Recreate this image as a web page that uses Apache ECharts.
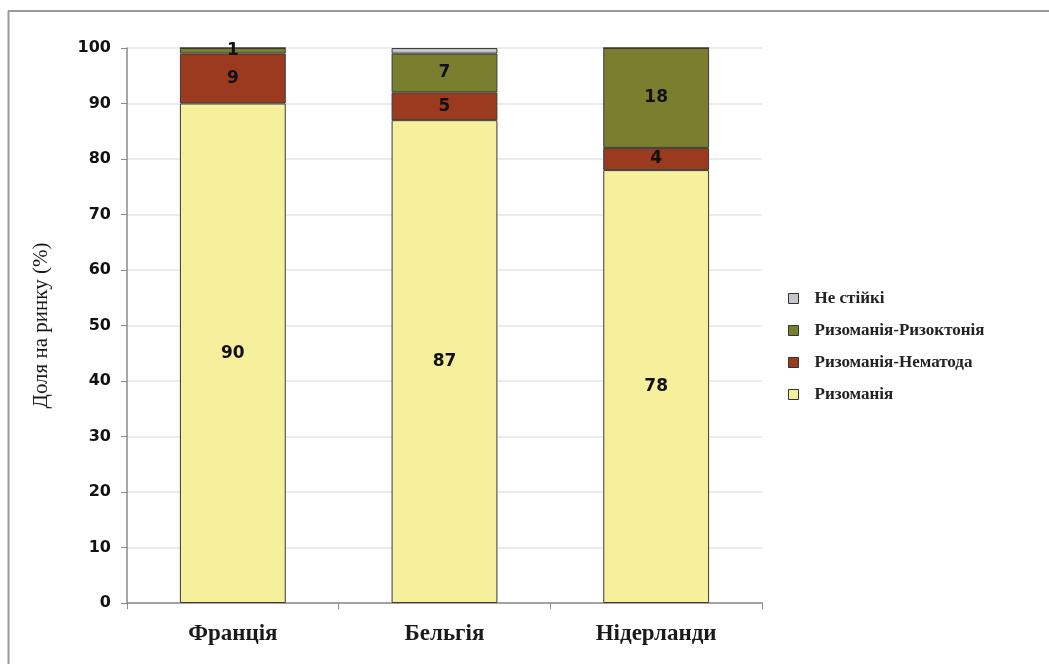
<!DOCTYPE html>
<html>
<head>
<meta charset="utf-8">
<script src="https://cdn.jsdelivr.net/npm/echarts@6/dist/echarts.min.js"></script>
<style>
  html, body { margin: 0; padding: 0; background: #ffffff; }
  #chart { width: 1049px; height: 664px; }
</style>
</head>
<body>
<div id="chart"></div>
<script>
// Countries on the horizontal axis
const countries = ['Франція', 'Бельгія', 'Нідерланди'];

// Market share (%) of each resistance type, per country
const rizomania = [90, 87, 78];
const rizomaniaNematoda = [9, 5, 4];
const rizomaniaRizoktonia = [1, 7, 18];
const neStiiki = [0, 1, 0];

// Series names, in stacking order
const seriesNames = ['Ризоманія', 'Ризоманія-Нематода', 'Ризоманія-Ризоктонія', 'Не стійкі'];

const yTicks = { min: 0, max: 100, interval: 10 };

const colors = ['#F6EF9C', '#9B3A1E', '#7A7E2F', '#C3C4CC'];

const chart = echarts.init(document.getElementById('chart'), null, { renderer: 'canvas' });

function barSeries(name, data, color, showLabel) {
  return {
    name: name,
    type: 'bar',
    stack: 'share',
    barWidth: '50%',
    data: data,
    itemStyle: { color: color, borderColor: '#3a3a3a', borderWidth: 1 },
    label: {
      show: showLabel,
      position: 'inside',
      color: '#111',
      fontFamily: 'DejaVu Sans, Arial, sans-serif',
      fontWeight: 'bold',
      fontSize: 17,
      formatter: p => (p.value > 0 ? p.value : '')
    },
    emphasis: { disabled: true }
  };
}

chart.setOption({
  animation: false,
  backgroundColor: '#ffffff',
  grid: { left: 127, right: 287, top: 48, bottom: 61, containLabel: false },
  legend: {
    orient: 'vertical',
    left: 783,
    top: 285,
    itemGap: 15,
    itemWidth: 10,
    itemHeight: 10,
    icon: 'rect',
    data: ['Не стійкі', 'Ризоманія-Ризоктонія', 'Ризоманія-Нематода', 'Ризоманія'],
    itemStyle: { borderColor: '#333', borderWidth: 1 },
    textStyle: {
      fontFamily: 'Liberation Serif, Times New Roman, serif',
      fontWeight: 'bold',
      fontSize: 17,
      color: '#222',
      padding: [0, 0, 0, 11]
    }
  },
  xAxis: {
    type: 'category',
    data: countries,
    axisLine: { lineStyle: { color: '#8a8a8a', width: 1.5 } },
    axisTick: { show: true, inside: false, length: 6, lineStyle: { color: '#8a8a8a' } },
    axisLabel: {
      margin: 20,
      fontFamily: 'Liberation Serif, Times New Roman, serif',
      fontWeight: 'bold',
      fontSize: 23,
      color: '#1a1a1a'
    }
  },
  yAxis: {
    type: 'value',
    min: yTicks.min,
    max: yTicks.max,
    interval: yTicks.interval,
    name: 'Доля на ринку (%)',
    nameLocation: 'middle',
    nameGap: 75,
    nameTextStyle: {
      fontFamily: 'Liberation Serif, Times New Roman, serif',
      fontSize: 21,
      color: '#1a1a1a'
    },
    axisLine: { show: true, lineStyle: { color: '#8a8a8a', width: 1.5 } },
    axisTick: { show: true, inside: false, length: 6, lineStyle: { color: '#8a8a8a' } },
    axisLabel: {
      margin: 16,
      fontFamily: 'DejaVu Sans, Arial, sans-serif',
      fontWeight: 'bold',
      fontSize: 16,
      color: '#111'
    },
    splitLine: { show: true, lineStyle: { color: '#e6e6e6', width: 1.5 } }
  },
  series: [
    barSeries(seriesNames[0], rizomania, colors[0], true),
    barSeries(seriesNames[1], rizomaniaNematoda, colors[1], true),
    barSeries(seriesNames[2], rizomaniaRizoktonia, colors[2], true),
    barSeries(seriesNames[3], neStiiki, colors[3], false)
  ],
  graphic: [
    { type: 'line', shape: { x1: 8, y1: 11, x2: 1049, y2: 11 }, style: { stroke: '#9a9a9a', lineWidth: 2 } },
    { type: 'line', shape: { x1: 8.5, y1: 11, x2: 8.5, y2: 664 }, style: { stroke: '#9a9a9a', lineWidth: 2 } }
  ]
});
</script>
</body>
</html>
